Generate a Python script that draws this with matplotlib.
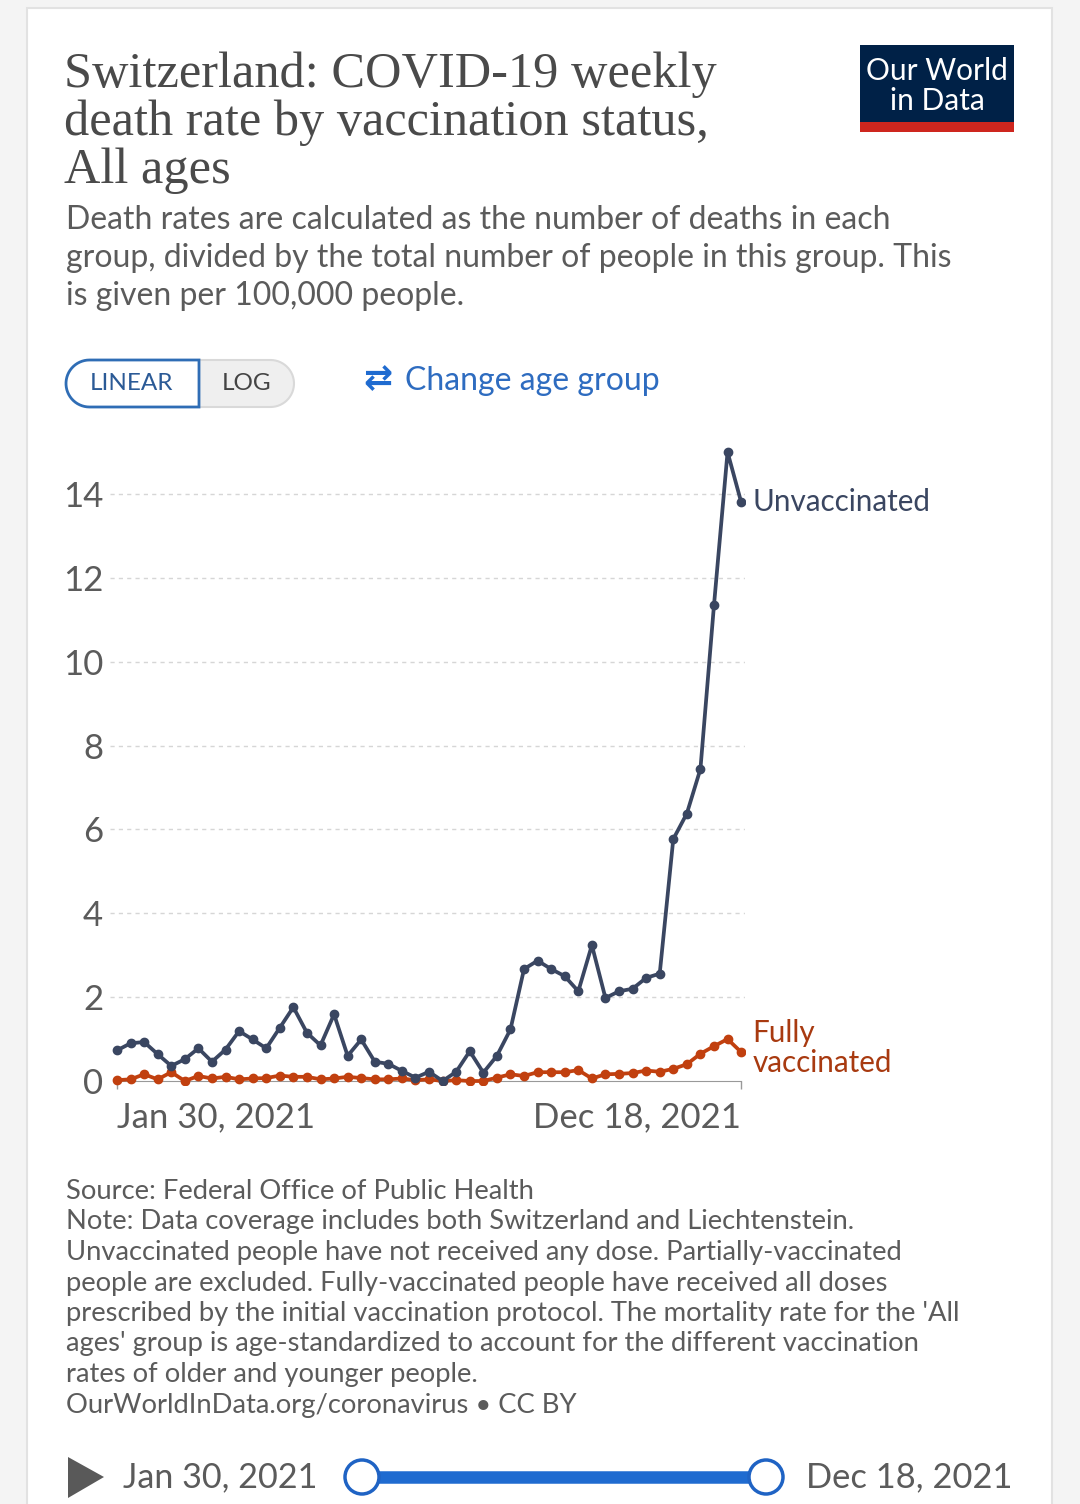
"""Switzerland: COVID-19 weekly death rate by vaccination status (OWID style card)."""
import numpy as np
import pandas as pd
import matplotlib
matplotlib.use("Agg")
import matplotlib.pyplot as plt
import matplotlib.dates as mdates
from matplotlib.patches import Rectangle, Circle, Polygon

plt.rcParams['font.family'] = ['Lato', 'DejaVu Sans']

W, H = 1080, 1504

# ----------------------------------------------------------------
# Data (per 100,000 people, weekly)
# ----------------------------------------------------------------
weeks = pd.date_range("2021-01-30", "2021-12-18", freq="7D")

unvaccinated = [0.73, 0.90, 0.93, 0.64, 0.36, 0.52, 0.78, 0.46, 0.75, 1.19,
                0.99, 0.78, 1.27, 1.76, 1.15, 0.85, 1.59, 0.60, 0.99, 0.46,
                0.41, 0.24, 0.08, 0.22, 0.00, 0.22, 0.71, 0.20, 0.60, 1.23,
                2.67, 2.87, 2.67, 2.50, 2.14, 3.24, 1.98, 2.14, 2.20, 2.46,
                2.56, 5.77, 6.38, 7.44, 11.35, 15.00, 13.81]

fully_vaccinated = [0.02, 0.04, 0.16, 0.04, 0.21, 0.00, 0.12, 0.06, 0.10, 0.04,
                    0.06, 0.07, 0.13, 0.10, 0.10, 0.04, 0.06, 0.10, 0.07, 0.04,
                    0.04, 0.06, 0.02, 0.04, 0.00, 0.02, 0.00, 0.00, 0.08, 0.16,
                    0.12, 0.21, 0.21, 0.21, 0.26, 0.06, 0.16, 0.17, 0.19, 0.25,
                    0.22, 0.29, 0.40, 0.65, 0.83, 1.00, 0.69]

y_ticks = [0, 2, 4, 6, 8, 10, 12, 14]
x_tick_labels = ["Jan 30, 2021", "Dec 18, 2021"]

title = "Switzerland: COVID-19 weekly\ndeath rate by vaccination status,\nAll ages"
subtitle = ("Death rates are calculated as the number of deaths in each\n"
            "group, divided by the total number of people in this group. This\n"
            "is given per 100,000 people.")
footer = ("Source: Federal Office of Public Health\n"
          "Note: Data coverage includes both Switzerland and Liechtenstein.\n"
          "Unvaccinated people have not received any dose. Partially-vaccinated\n"
          "people are excluded. Fully-vaccinated people have received all doses\n"
          "prescribed by the initial vaccination protocol. The mortality rate for the 'All\n"
          "ages' group is age-standardized to account for the different vaccination\n"
          "rates of older and younger people.\n"
          "OurWorldInData.org/coronavirus \u2022 CC BY")

C_UNVAX = "#3a4661"
C_VAX = "#c1400f"
C_VAX_TXT = "#a83a10"
C_TEXT = "#5b5b5b"
C_BLUE = "#1f6bd0"


def fx(px):
    return px / W


def fy(py):
    return 1 - py / H


def half_pill(x0, x1, y0, y1, side):
    """Polygon (pixel coords, y down) with one rounded end."""
    r = (y1 - y0) / 2
    cy = (y0 + y1) / 2
    t = np.linspace(np.pi / 2, 3 * np.pi / 2, 30)
    if side == "left":
        arc = [(x0 + r + r * np.cos(a), cy - r * np.sin(a)) for a in t]
        pts = [(x1, y0), (x0 + r, y0)] + arc + [(x0 + r, y1), (x1, y1)]
    else:
        arc = [(x1 - r - r * np.cos(a), cy - r * np.sin(a)) for a in t]
        pts = [(x0, y0), (x1 - r, y0)] + arc + [(x1 - r, y1), (x0, y1)]
    return [(fx(px), fy(py)) for px, py in pts]


fig = plt.figure(figsize=(W / 100, H / 100), dpi=100)
fig.patch.set_facecolor("#f4f4f4")

# card
fig.patches.append(Rectangle((fx(27), fy(1520)), fx(1052) - fx(27), fy(8) - fy(1520),
                             transform=fig.transFigure, facecolor="white",
                             edgecolor="#e2e2e2", lw=1.5, zorder=-10))

# ----------------------------------------------------------------
# Header
# ----------------------------------------------------------------
fig.text(fx(64), fy(51), title, family="Liberation Serif", fontsize=36.3,
         color="#4a4a4a", va="top", ha="left", linespacing=1.05)
fig.text(fx(66), fy(205), subtitle, fontsize=23, color=C_TEXT,
         va="top", ha="left", linespacing=1.33)

# logo
fig.patches.append(Rectangle((fx(860), fy(122)), fx(1014) - fx(860), fy(45) - fy(122),
                             transform=fig.transFigure, facecolor="#002147", lw=0))
fig.patches.append(Rectangle((fx(860), fy(132)), fx(1014) - fx(860), fy(122) - fy(132),
                             transform=fig.transFigure, facecolor="#ce261e", lw=0))
fig.text(fx(937), fy(86), "Our World\nin Data", fontsize=21.5, color="white",
         ha="center", va="center", linespacing=1.12)

# LINEAR / LOG toggle
fig.patches.append(Polygon(half_pill(199, 294, 360, 407, "right"), closed=True,
                           transform=fig.transFigure, facecolor="#efefef",
                           edgecolor="#d9d9d9", lw=1.5))
fig.patches.append(Polygon(half_pill(66, 199, 360, 407, "left"), closed=True,
                           transform=fig.transFigure, facecolor="white",
                           edgecolor="#2f6db5", lw=2))
fig.text(fx(132), fy(383), "LINEAR", fontsize=17.5, color="#2b5a96", ha="center", va="center")
fig.text(fx(247), fy(383), "LOG", fontsize=17.5, color="#444444", ha="center", va="center")
fig.text(fx(363), fy(379), "\u21c4", family="DejaVu Sans", fontsize=25, color=C_BLUE,
         ha="left", va="center", fontweight="bold")
fig.text(fx(405), fy(381), "Change age group", fontsize=23, color="#2e6cc0",
         ha="left", va="center")

# ----------------------------------------------------------------
# Chart
# ----------------------------------------------------------------
ax_l, ax_r = 110, 745
ax_t, ax_b = 443.7, 1085.2
ax = fig.add_axes([fx(ax_l), fy(ax_b), fx(ax_r) - fx(ax_l), fy(ax_t) - fy(ax_b)])
ax.set_facecolor("none")

ax.plot(weeks, fully_vaccinated, color=C_VAX, lw=2.7, marker="o", ms=6, zorder=3,
        solid_joinstyle="round")
ax.plot(weeks, unvaccinated, color=C_UNVAX, lw=2.7, marker="o", ms=6, zorder=4,
        solid_joinstyle="round")

d0, dn = weeks[0], weeks[-1]
ax.set_xlim(d0 - pd.Timedelta(days=3.6), dn + pd.Timedelta(days=2))
ax.set_ylim(-0.1, 15.2)

for v in y_ticks[1:]:
    ax.axhline(v, color="#d6d6d6", lw=1, ls=(0, (3, 3)), zorder=1)

ax.set_yticks(y_ticks)
ax.set_yticklabels([str(v) for v in y_ticks])
ax.tick_params(axis="y", length=0, pad=5, labelsize=25, labelcolor=C_TEXT)

ax.set_xticks([d0, dn])
ax.tick_params(axis="x", length=6, width=1, color="#999999", labelbottom=False)
for d, lbl, ha in zip([d0, dn], x_tick_labels, ["left", "right"]):
    ax.annotate(lbl, (d, 0), xytext=(0, -26), textcoords="offset points",
                fontsize=25, color=C_TEXT, ha=ha, va="center",
                annotation_clip=False)

for s in ["top", "right", "left"]:
    ax.spines[s].set_visible(False)
ax.spines["bottom"].set_position(("data", 0))
ax.spines["bottom"].set_bounds(mdates.date2num(d0), mdates.date2num(dn))
ax.spines["bottom"].set_color("#999999")

# series labels next to the last point
ax.annotate("Unvaccinated", (dn, unvaccinated[-1]), xytext=(8, 0),
            textcoords="offset points", fontsize=21.3, color=C_UNVAX,
            va="center", ha="left", annotation_clip=False)
ax.annotate("Fully\nvaccinated", (dn, fully_vaccinated[-1]), xytext=(8, 3),
            textcoords="offset points", fontsize=21.3, color=C_VAX_TXT,
            va="center", ha="left", linespacing=1.1, annotation_clip=False)

# ----------------------------------------------------------------
# Footer
# ----------------------------------------------------------------
fig.text(fx(66), fy(1179), footer, fontsize=19.7, color=C_TEXT, va="top",
         ha="left", linespacing=1.275)

# timeline slider
fig.patches.append(Polygon([(fx(68), fy(1457)), (fx(68), fy(1498)), (fx(104), fy(1477))],
                           closed=True, transform=fig.transFigure,
                           facecolor="#595959", lw=0))
fig.text(fx(123), fy(1477), "Jan 30, 2021", fontsize=24.6, color=C_TEXT,
         ha="left", va="center")
fig.text(fx(806), fy(1477), "Dec 18, 2021", fontsize=24.8, color=C_TEXT,
         ha="left", va="center")
fig.add_artist(plt.Line2D([fx(362), fx(766)], [fy(1477), fy(1477)],
                          color=C_BLUE, lw=9, solid_capstyle="butt", zorder=2))
for cx in (362, 766):
    fig.add_artist(Circle((cx, H - 1477), 17, transform=None, facecolor="white",
                          edgecolor="#1f63c4", lw=2.5, zorder=3))

fig.savefig("out.png", dpi=100)
